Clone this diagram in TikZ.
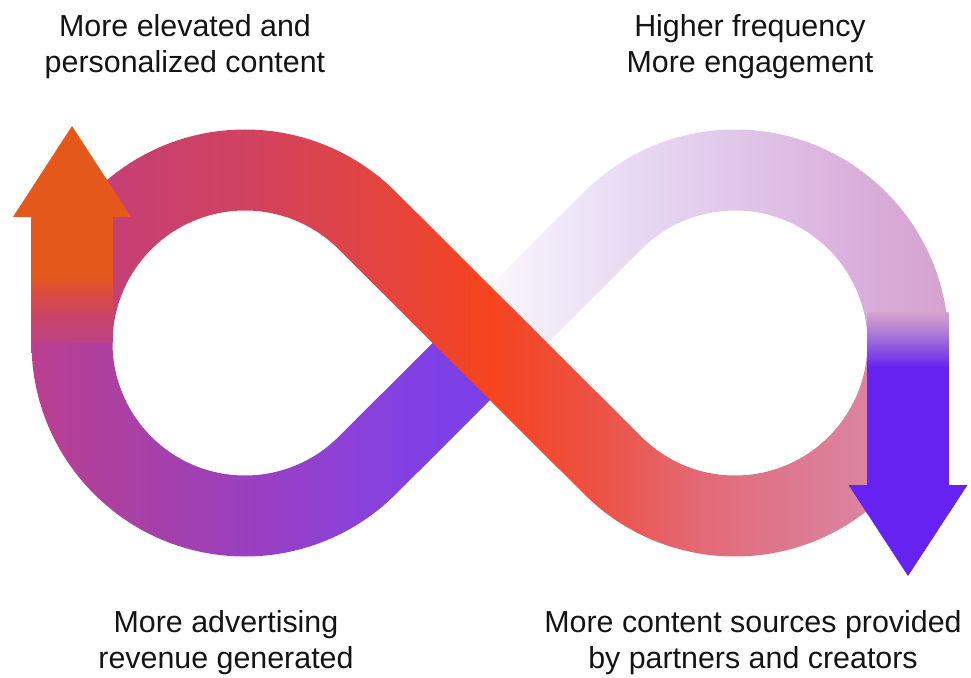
\documentclass[tikz,border=0pt]{standalone}
\usepackage{fontspec}
\setmainfont{Liberation Sans}
\usepackage{xcolor}
\definecolor{ink}{HTML}{141414}
\definecolor{redA}{HTML}{C23F80}
\definecolor{redB}{HTML}{C9406F}
\definecolor{redC}{HTML}{D24260}
\definecolor{redD}{HTML}{E2443F}
\definecolor{redE}{HTML}{F6441F}
\definecolor{redF}{HTML}{EC5246}
\definecolor{redG}{HTML}{E36976}
\definecolor{redH}{HTML}{DD7A92}
\definecolor{redI}{HTML}{D890B2}
\definecolor{vioA}{HTML}{BA4090}
\definecolor{vioB}{HTML}{A640A8}
\definecolor{vioC}{HTML}{9A40C0}
\definecolor{vioD}{HTML}{8C41D8}
\definecolor{vioE}{HTML}{7C40E8}
\definecolor{vioF}{HTML}{7840EE}
\definecolor{lavA}{HTML}{FDFCFF}
\definecolor{lavB}{HTML}{F0E8F8}
\definecolor{lavC}{HTML}{E6D6F2}
\definecolor{lavD}{HTML}{E0C4E8}
\definecolor{lavE}{HTML}{DAB0DC}
\definecolor{lavF}{HTML}{D6A2CE}
\definecolor{orgA}{HTML}{BD4186}
\definecolor{orgB}{HTML}{C8436E}
\definecolor{orgC}{HTML}{D84A46}
\definecolor{orgD}{HTML}{E5581B}
\definecolor{indA}{HTML}{6622F0}
\definecolor{indB}{HTML}{7A40E8}
\definecolor{indC}{HTML}{A472DA}
\definecolor{indD}{HTML}{D6A2CC}
\pgfdeclarehorizontalshading{bandred}{100bp}{color(0bp)=(redA); color(26.62bp)=(redA); color(32.72bp)=(redB); color(37.87bp)=(redC); color(44.57bp)=(redD); color(50.23bp)=(redE); color(55.90bp)=(redF); color(61.05bp)=(redG); color(66.19bp)=(redH); color(73.82bp)=(redI); color(100bp)=(redI)}
\pgfdeclarehorizontalshading{bandviolet}{100bp}{color(0bp)=(vioA); color(26.62bp)=(vioA); color(32.72bp)=(vioB); color(37.87bp)=(vioC); color(43.02bp)=(vioD); color(48.17bp)=(vioE); color(51.78bp)=(vioF); color(100bp)=(vioF)}
\pgfdeclarehorizontalshading{bandlilac}{100bp}{color(0bp)=(lavA); color(49.2bp)=(lavA); color(53.83bp)=(lavB); color(58.47bp)=(lavC); color(63.62bp)=(lavD); color(68.77bp)=(lavE); color(73.82bp)=(lavF); color(100bp)=(lavF)}
\pgfdeclareverticalshading{shaftorange}{100bp}{color(0bp)=(orgA); color(49.67bp)=(orgA); color(51.3bp)=(orgB); color(53.0bp)=(orgC); color(54.7bp)=(orgD); color(100bp)=(orgD)}
\pgfdeclareverticalshading{shaftindigo}{100bp}{color(0bp)=(indA); color(47.90bp)=(indA); color(48.64bp)=(indB); color(50.11bp)=(indC); color(51.88bp)=(indD); color(100bp)=(indD)}
\begin{document}
\begin{tikzpicture}[x=0.02cm,y=0.02cm,
  lbl/.style={font=\fontsize{17.3}{20.4}\selectfont,align=center,text=ink,inner sep=0pt}]
\useasboundingbox (0,0) rectangle (971,677);
\begin{scope}
\clip (31.5,334) arc[start angle=180,end angle=315,radius=213.5] -- (518.64,305.36) -- (461.36,362.64) -- (338.69,240.31) arc[start angle=315,end angle=180,radius=132.5] -- cycle;
\shade[shading=bandviolet] (0,0) rectangle (971,677);
\end{scope}
\begin{scope}
\clip (518.64,305.36) -- (641.31,427.69) arc[start angle=135,end angle=0,radius=132.5] -- (948.5,334) arc[start angle=0,end angle=135,radius=213.5] -- (461.36,362.64) -- cycle;
\shade[shading=bandlilac] (0,0) rectangle (971,677);
\end{scope}
\begin{scope}
\clip (948.5,334) arc[start angle=0,end angle=-135,radius=213.5] -- (338.69,427.69) arc[start angle=45,end angle=180,radius=132.5] -- (31.5,334) arc[start angle=180,end angle=45,radius=213.5] -- (641.31,240.31) arc[start angle=225,end angle=360,radius=132.5] -- cycle;
\shade[shading=bandred] (0,0) rectangle (971,677);
\end{scope}
\begin{scope}
\clip (31.5,334) rectangle (112.5,461);
\shade[shading=shaftorange] (0,0) rectangle (971,677);
\end{scope}
\fill[orgD] (13,460) -- (131,460) -- (72,551) -- cycle;
\begin{scope}
\clip (867.5,191) rectangle (948.5,364);
\shade[shading=shaftindigo] (0,0) rectangle (971,677);
\end{scope}
\fill[indA] (848.5,192) -- (967.5,192) -- (908,101) -- cycle;
\node[lbl] (elevated) at (185,630) {More elevated and\\personalized content};
\node[lbl] (frequency) at (750,630) {Higher frequency\\More engagement};
\node[lbl] (revenue) at (226,34) {More advertising\\revenue generated};
\node[lbl] (sources) at (753,34) {More content sources provided\\by partners and creators};
\end{tikzpicture}
\end{document}
